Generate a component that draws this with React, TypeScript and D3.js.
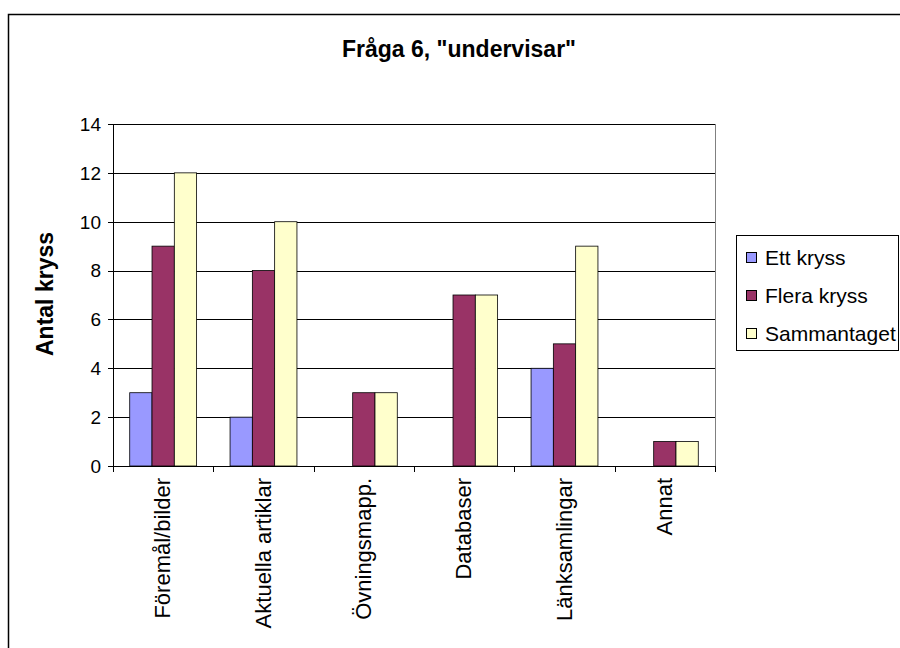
import React from "react";
import * as d3 from "d3";

const categories = ["Föremål/bilder", "Aktuella artiklar", "Övningsmapp.", "Databaser", "Länksamlingar", "Annat"];
const seriesNames = ["Ett kryss", "Flera kryss", "Sammantaget"];
const ettKryss = [3, 2, 0, 0, 4, 0];
const fleraKryss = [9, 8, 3, 7, 5, 1];
const sammantaget = [12, 10, 3, 7, 9, 1];
const yTicks = [0, 2, 4, 6, 8, 10, 12, 14];
const colors = ["#9999FF", "#993366", "#FFFFCC"];

const seriesValues = [ettKryss, fleraKryss, sammantaget];

export default function App() {
  const left = 113, right = 715, top = 124, bottom = 466;
  const x0 = d3.scaleBand<string>().domain(categories).range([left, right]).padding(0);
  const x1 = d3.scaleBand<string>().domain(seriesNames).range([0, x0.bandwidth()]).paddingInner(0).paddingOuter(0.75);
  const y = d3.scaleLinear().domain([0, 14]).range([bottom, top]);
  const font = "Arial, 'Liberation Sans', sans-serif";

  return (
    <svg width={900} height={648} style={{ position: "absolute", left: 0, top: 0, background: "#fff" }} fontFamily={font}>
      <rect x={8.5} y={14.5} width={1000} height={1000} fill="#fff" stroke="#000" strokeWidth={1.5} />
      <text x={459} y={57} textAnchor="middle" fontSize={23} fontWeight="bold">Fråga 6, "undervisar"</text>

      {/* gridlines */}
      {yTicks.map((t) => (
        <line key={"g" + t} x1={left} x2={right} y1={Math.round(y(t)) + 0.5} y2={Math.round(y(t)) + 0.5} stroke="#000" strokeWidth={1} />
      ))}
      <line x1={right + 0.5} x2={right + 0.5} y1={top} y2={bottom} stroke="#808080" />

      {/* bars */}
      {categories.map((c, i) => (
        <g key={c}>
          {seriesNames.map((s, j) => {
            const v = seriesValues[j][i];
            if (!v) return null;
            const bx = (x0(c) as number) + (x1(s) as number);
            return (
              <rect key={s} x={bx} y={y(v)} width={x1.bandwidth()} height={y(0) - y(v)} fill={colors[j]} stroke="#000" strokeWidth={0.8} />
            );
          })}
        </g>
      ))}

      {/* axes */}
      <line x1={left + 0.5} x2={left + 0.5} y1={top} y2={bottom} stroke="#000" />
      <line x1={left} x2={right} y1={bottom + 0.5} y2={bottom + 0.5} stroke="#000" />
      {yTicks.map((t) => (
        <g key={"t" + t}>
          <line x1={left - 5} x2={left} y1={Math.round(y(t)) + 0.5} y2={Math.round(y(t)) + 0.5} stroke="#000" />
          <text x={left - 12} y={y(t)} dy="0.36em" textAnchor="end" fontSize={19}>{t}</text>
        </g>
      ))}
      {categories.concat([""]).map((c, i) => {
        const xx = Math.round(left + i * x0.step()) + 0.5;
        return <line key={"xt" + i} x1={xx} x2={xx} y1={bottom} y2={bottom + 6} stroke="#000" />;
      })}
      {categories.map((c) => {
        const cx = (x0(c) as number) + x0.bandwidth() / 2 + 7;
        return (
          <text key={"l" + c} transform={`translate(${cx},478) rotate(-90)`} textAnchor="end" fontSize={22}>{c}</text>
        );
      })}

      <text transform={`translate(53,294) rotate(-90)`} textAnchor="middle" fontSize={23} fontWeight="bold">Antal kryss</text>

      {/* legend */}
      <rect x={736.5} y={235.5} width={162} height={115} fill="#fff" stroke="#000" />
      {seriesNames.map((s, j) => (
        <g key={"lg" + s} transform={`translate(746,${257 + j * 38})`}>
          <rect x={0.5} y={-4.5} width={10} height={10} fill={colors[j]} stroke="#000" />
          <text x={19} y={0} dy="0.36em" fontSize={21}>{s}</text>
        </g>
      ))}
    </svg>
  );
}
